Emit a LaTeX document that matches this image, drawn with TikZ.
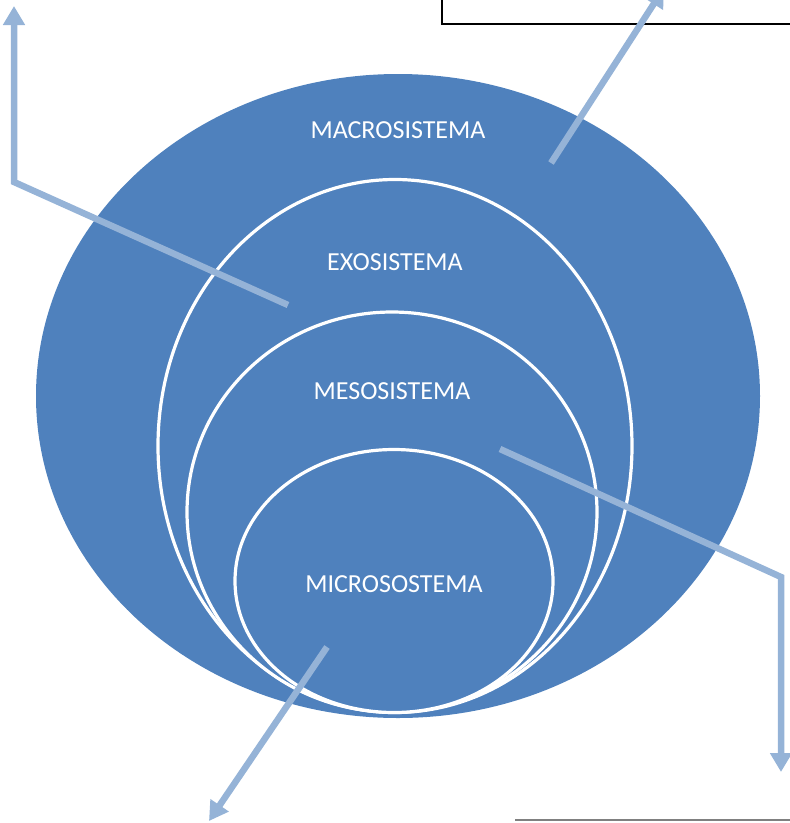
\documentclass[tikz,border=0pt]{standalone}
\usepackage{fontspec}
\setmainfont{Carlito}
\usetikzlibrary{shapes.geometric, arrows.meta, positioning}
\definecolor{sysBlue}{HTML}{4F81BD}
\definecolor{linkBlue}{HTML}{95B3D7}

\begin{document}
\begin{tikzpicture}[x=1pt, y=-1pt,
              sysEllipse/.style={
                ellipse, inner sep=0pt, fill=sysBlue,
                draw=white, line width=3.2pt
             },
              sysLabel/.style={
                text=white, font=\fontsize{26}{30}\selectfont, inner sep=0pt
             },
              linkArrow/.style={
                draw=linkBlue, line width=6.5pt,
                -{Triangle[width=21pt, length=19pt]}
             } ]
              \useasboundingbox (0,0) rectangle (790,823);
              % circles, outside to inside
              \node[sysEllipse, draw=none, minimum width=724pt, minimum height=644pt] (macro) at (398,396) {};
              \node[sysEllipse, minimum width=474pt, minimum height=533pt] (exo) at (395,446) {};
              \node[sysEllipse, minimum width=410pt, minimum height=400pt] (meso) at (392,512) {};
              \node[sysEllipse, minimum width=318pt, minimum height=263pt] (micro) at (394,581) {};
              \node[sysLabel] (macroTxt) at (398,130) {MACROSISTEMA};
              \node[sysLabel] (exoTxt) at (395,262) {EXOSISTEMA};
              \node[sysLabel] (mesoTxt) at (392,391) {MESOSISTEMA};
              \node[sysLabel] (microTxt) at (394,584) {MICROSOSTEMA};
              % boxes at the edges
              \draw[black, line width=1.8pt] (442,-20) rectangle (800,24);
              \draw[gray, line width=1.5pt] (515,820) -- (800,820);
              % arrows
              \coordinate (macroFrom) at (551,163);
              \coordinate (macroTo) at (664,-12);
              \coordinate (exoFrom) at (288,305);
              \coordinate (exoBend) at (14,182);
              \coordinate (exoTo) at (14,6);
              \coordinate (mesoFrom) at (500,449);
              \coordinate (mesoBend) at (781,577);
              \coordinate (mesoTo) at (781,772);
              \coordinate (microFrom) at (327,647);
              \coordinate (microTo) at (209,821);
              \draw[linkArrow] (macroFrom) -- (macroTo);
              \draw[linkArrow] (exoFrom) -- (exoBend) -- (exoTo);
              \draw[linkArrow] (mesoFrom) -- (mesoBend) -- (mesoTo);
              \draw[linkArrow] (microFrom) -- (microTo);
            \end{tikzpicture}
\end{document}
